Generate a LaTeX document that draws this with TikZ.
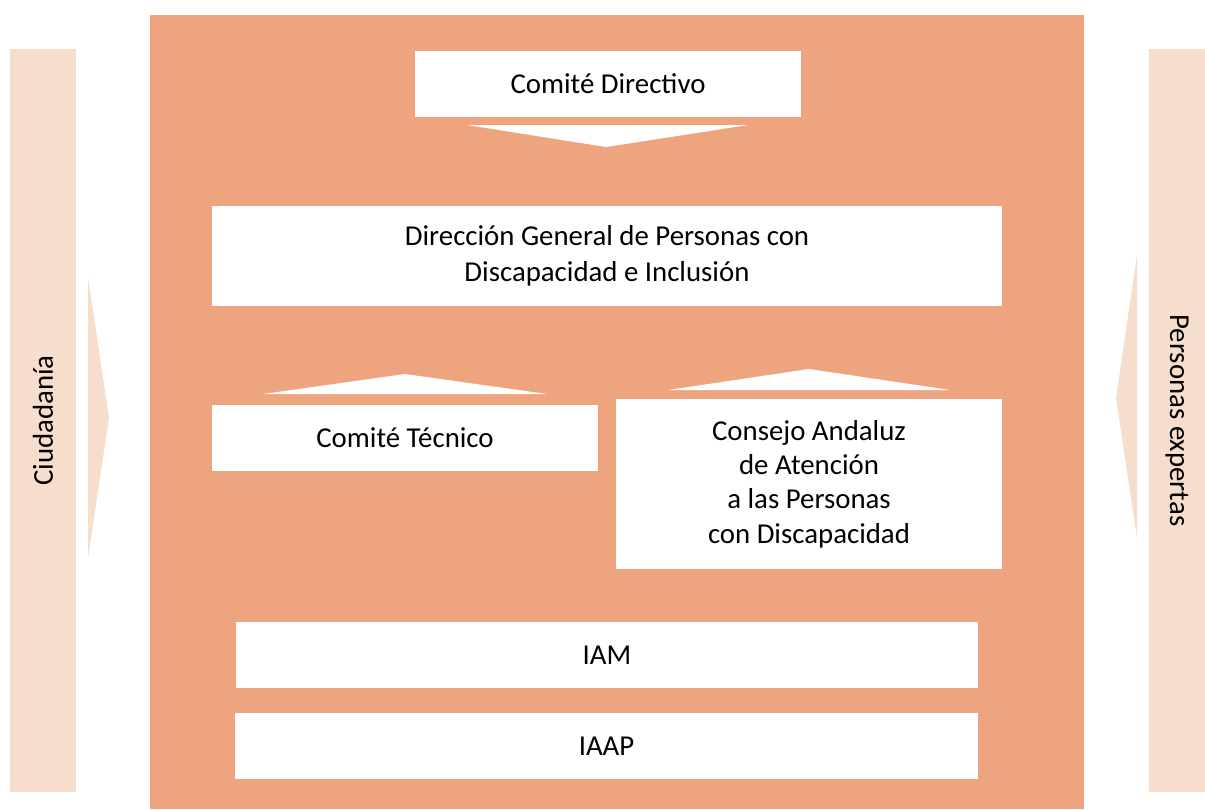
\documentclass[tikz,border=0pt]{standalone}
\usepackage{fontspec}
\setmainfont{Carlito}
\usetikzlibrary{positioning}

\definecolor{salmon}{HTML}{EEA57F}
\definecolor{peach}{HTML}{F7DDCC}

\tikzset{
	box/.style = {fill=white, inner sep=0pt, align=center, font=\fontsize{16.4}{20.4}\selectfont},
	side/.style = {fill=peach, inner sep=0pt, font=\fontsize{16.4}{20.4}\selectfont},
}

\begin{document}
\begin{tikzpicture}[x = 0.02cm, y = -0.02cm]
	\useasboundingbox (0,0) rectangle (1205,809);

	\fill[salmon] (150,15) rectangle (1084,809);

	\node[side, minimum width=1.32cm, minimum height=14.86cm] (ciud) at (43,420.5) {};
	\node[rotate=90, font=\fontsize{16.4}{20.4}\selectfont] (ciudtxt) at (ciud) {Ciudadanía};

	\node[side, minimum width=1.12cm, minimum height=14.86cm] (expe) at (1177,420.5) {};
	\node[rotate=-90, font=\fontsize{16.4}{20.4}\selectfont] (expetxt) at (expe) {Personas expertas};

	\fill[peach] (88,277) -- (109,418) -- (88,558) -- cycle;
	\fill[peach] (1137,255) -- (1116,398) -- (1137,538) -- cycle;

	\node[box, minimum width=7.72cm, minimum height=1.32cm] (dir) at (608,84) {Comité Directivo};

	\fill[white] (467,125) -- (748,125) -- (606,147) -- cycle;

	\node[box, minimum width=15.8cm, minimum height=2cm] (dg) at (607,256) {Dirección General de Personas con\\Discapacidad e Inclusión};

	\fill[white] (263,394) -- (405,374) -- (547,394) -- cycle;
	\fill[white] (668,390) -- (809,369) -- (950,390) -- cycle;

	\node[box, minimum width=7.72cm, minimum height=1.32cm] (tec) at (405,438) {Comité Técnico};

	\node[box, minimum width=7.72cm, minimum height=3.4cm, font=\fontsize{16.4}{19.6}\selectfont] (cons) at (809,484) {Consejo Andaluz\\de Atención\\a las Personas\\con Discapacidad};

	\node[box, minimum width=14.84cm, minimum height=1.32cm] (iam) at (607,655) {IAM};

	\node[box, minimum width=14.86cm, minimum height=1.32cm] (iaap) at (606.5,746) {IAAP};
\end{tikzpicture}
\end{document}
